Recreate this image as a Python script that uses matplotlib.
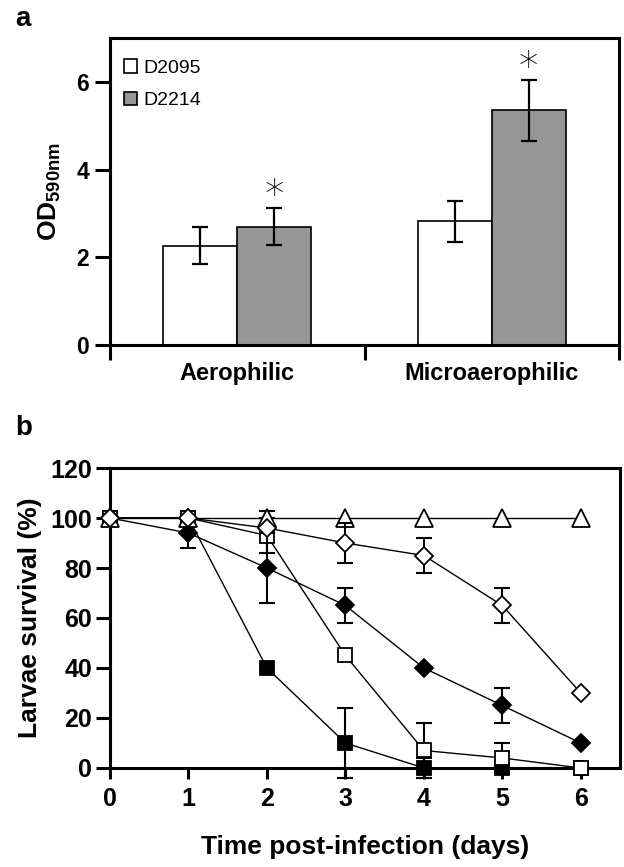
import numpy as np
import matplotlib
matplotlib.use("Agg")
import matplotlib.pyplot as plt

plt.rcParams['font.family'] = ['Liberation Sans', 'DejaVu Sans']
plt.rcParams['mathtext.fontset'] = 'custom'
plt.rcParams['mathtext.rm'] = 'Liberation Sans'
plt.rcParams['mathtext.bf'] = 'Liberation Sans:bold'

# panel a data
condiciones = ['Aerophilic', 'Microaerophilic']
cepas = ['D2095', 'D2214']
od_d2095 = [2.27, 2.82]
err_d2095 = [0.42, 0.47]
od_d2214 = [2.70, 5.35]
err_d2214 = [0.42, 0.69]

# panel b data
dias = [0, 1, 2, 3, 4, 5, 6]
triangulo = [100, 100, 100, 100, 100, 100, 100]
err_triangulo = [0, 0, 3, 0, 0, 0, 0]
rombo_abierto = [100, 100, 96, 90, 85, 65, 30]
err_rombo_abierto = [0, 0, 0, 8, 7, 7, 0]
rombo_lleno = [100, 94, 80, 65, 40, 25, 10]
err_rombo_lleno = [0, 6, 14, 7, 0, 7, 0]
cuadrado_abierto = [100, 100, 93, 45, 7, 4, 0]
err_cuadrado_abierto = [0, 0, 7, 0, 11, 6, 0]
cuadrado_lleno = [100, 100, 40, 10, 0, 0, 0]
err_cuadrado_lleno = [0, 0, 0, 14, 4, 0, 0]

fig = plt.figure(figsize=(6.24, 8.67), dpi=100)

# ---------------- panel a ----------------
ax1 = fig.add_axes([0.1763, 0.602, 0.8157, 0.354])
x = np.arange(len(condiciones))
ancho = 0.29
gris = '#969696'
b1 = ax1.bar(x - ancho / 2, od_d2095, ancho, color='white', edgecolor='black', linewidth=1.2)
b2 = ax1.bar(x + ancho / 2, od_d2214, ancho, color=gris, edgecolor='black', linewidth=1.2)
ax1.errorbar(x - ancho / 2, od_d2095, yerr=err_d2095, fmt='none', ecolor='black',
             elinewidth=1.6, capsize=5.5, capthick=1.6)
ax1.errorbar(x + ancho / 2, od_d2214, yerr=err_d2214, fmt='none', ecolor='black',
             elinewidth=1.6, capsize=5.5, capthick=1.6)
# asteriscos de significancia
for xi, v, e in zip(x, od_d2214, err_d2214):
    ax1.text(xi + ancho / 2, v + e + 0.28, '*', ha='center', va='center',
             fontsize=28, family='DejaVu Sans', fontweight='light')

ax1.set_xlim(-0.5, 1.5)
ax1.set_ylim(0, 7)
ax1.set_yticks([0, 2, 4, 6])
ax1.set_xticks([-0.5, 0.5, 1.5])
ax1.set_xticklabels([])
ax1.set_xticks(x, minor=True)
ax1.set_xticklabels(condiciones, minor=True, fontsize=17, fontweight='bold')
ax1.tick_params(axis='x', which='minor', length=0, pad=12)
ax1.tick_params(axis='x', which='major', direction='out', length=11, width=2.2)
ax1.tick_params(axis='y', direction='out', length=11, width=2.2, labelsize=16.5, pad=4)
for lab in ax1.get_yticklabels():
    lab.set_fontweight('bold')
for s in ax1.spines.values():
    s.set_linewidth(2.2)
ax1.set_ylabel(r'$\mathbf{OD}_{\mathbf{590nm}}$', fontsize=19, labelpad=10)
ax1.legend([b1, b2], cepas, loc='upper left', bbox_to_anchor=(0.0, 0.975), frameon=False,
           fontsize=14, handlelength=0.7, handleheight=0.7, handletextpad=0.3,
           labelspacing=0.75, borderaxespad=0.3)
fig.text(0.025, 0.978, 'a', fontsize=20, fontweight='bold', va='center')

# ---------------- panel b ----------------
ax2 = fig.add_axes([0.1763, 0.1142, 0.8173, 0.346])

series = [
    (cuadrado_lleno, err_cuadrado_lleno, 's', 'black', 10.5, 2),
    (cuadrado_abierto, err_cuadrado_abierto, 's', 'white', 10.5, 3),
    (rombo_lleno, err_rombo_lleno, 'D', 'black', 8.8, 4),
    (triangulo, err_triangulo, '^', 'white', 12.5, 5),
    (rombo_abierto, err_rombo_abierto, 'D', 'white', 8.8, 6),
]
d = np.array(dias)
for vals, errs, mk, fc, ms, z in series:
    vals = np.array(vals, dtype=float)
    errs = np.array(errs, dtype=float)
    m = errs > 0
    ax2.errorbar(d[m], vals[m], yerr=errs[m], fmt='none', ecolor='black',
                 elinewidth=1.5, capsize=5.5, capthick=1.5, zorder=z, clip_on=False)
    ax2.plot(d, vals, color='black', linewidth=1.0, marker=mk, markersize=ms,
             markerfacecolor=fc, markeredgecolor='black', markeredgewidth=1.3,
             zorder=z + 0.5, clip_on=False)

ax2.set_xlim(0, 6.5)
ax2.set_ylim(0, 120)
ax2.set_xticks(dias)
ax2.set_yticks(range(0, 121, 20))
ax2.tick_params(axis='x', direction='out', length=8, width=2.2, labelsize=18, pad=6)
ax2.tick_params(axis='y', direction='out', length=10, width=2.2, labelsize=18, pad=3)
for lab in ax2.get_xticklabels() + ax2.get_yticklabels():
    lab.set_fontweight('bold')
for s in ax2.spines.values():
    s.set_linewidth(2.2)
ax2.set_xlabel('Time post-infection (days)', fontsize=19, fontweight='bold', labelpad=17)
ax2.set_ylabel('Larvae survival (%)', fontsize=19, fontweight='bold', labelpad=6)
fig.text(0.025, 0.506, 'b', fontsize=20, fontweight='bold', va='center')

fig.savefig('out.png', dpi=100)
